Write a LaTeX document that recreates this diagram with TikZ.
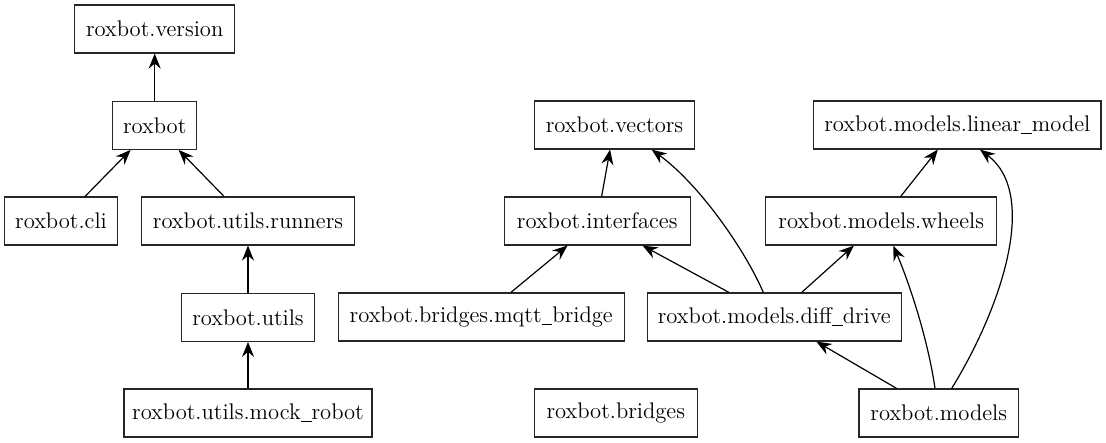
\documentclass[tikz,border=0pt]{standalone}
\usetikzlibrary{arrows.meta,calc}
\newcommand{\usc}{\rule[-0.25ex]{0.48em}{0.4pt}}
\begin{document}
\begin{tikzpicture}[x=0.5pt,y=-0.5pt,
  mod/.style={draw=black!85,line width=0.6pt,rectangle,minimum height=24pt,inner xsep=2pt,inner ysep=0pt,
    font=\fontsize{11.3}{13}\selectfont},
  dep/.style={line width=0.6pt,-{Stealth[length=7.5pt,width=6pt,inset=2.5pt]}}]
\useasboundingbox (0,0) rectangle (1106,443);
\node[mod,minimum width=80pt]    (version)  at (154.7,29)  {roxbot.version};
\node[mod,minimum width=42pt]    (roxbot)   at (154.7,125.3) {roxbot};
\node[mod,minimum width=56.3pt]  (cli)      at (61,221)    {roxbot.cli};
\node[mod,minimum width=106.7pt] (runners)  at (248,221)   {roxbot.utils.runners};
\node[mod,minimum width=66.2pt]  (utils)    at (248,317.3) {roxbot.utils};
\node[mod,minimum width=124pt]   (mock)     at (248,413)   {roxbot.utils.mock\usc robot};
\node[mod,minimum width=80.2pt]  (vectors)  at (614.5,125) {roxbot.vectors};
\node[mod,minimum width=92.9pt]  (iface)    at (597.2,221) {roxbot.interfaces};
\node[mod,minimum width=142.9pt] (mqtt)     at (481.2,317) {roxbot.bridges.mqtt\usc bridge};
\node[mod,minimum width=81.5pt]  (bridges)  at (615.8,413) {roxbot.bridges};
\node[mod,minimum width=143.7pt] (linear)   at (957.3,125) {roxbot.models.linear\usc model};
\node[mod,minimum width=115.5pt] (wheels)   at (881.2,221) {roxbot.models.wheels};
\node[mod,minimum width=127pt]   (diff)     at (774.3,317) {roxbot.models.diff\usc drive};
\node[mod,minimum width=79.7pt]  (models)   at (938.7,413) {roxbot.models};

\draw[dep] (roxbot) -- (version);
\draw[dep] (cli) -- (roxbot);
\draw[dep] (runners) -- (roxbot);
\draw[dep] (utils) -- (runners);
\draw[dep] (mock) -- (utils);
\draw[dep] (iface) -- (vectors);
\draw[dep] (mqtt) -- (iface);
\draw[dep] (diff) -- (iface);
\draw[dep] (diff) -- (wheels);
\draw[dep] (models) -- (diff);
\draw[dep] (wheels) -- (linear);
\draw[dep] ($(diff.north)+(-11,0)$) .. controls (745,250) and (700,185) .. ($(vectors.south)+(37.2,0)$);
\draw[dep] ($(models.north)+(-3.7,0)$) .. controls (928,340) and (910,285) .. ($(wheels.south)+(12.1,0)$);
\draw[dep] ($(models.north)+(13,0)$) .. controls (1000,310) and (1040,195) .. ($(linear.south)+(22.7,0)$);
\end{tikzpicture}
\end{document}
